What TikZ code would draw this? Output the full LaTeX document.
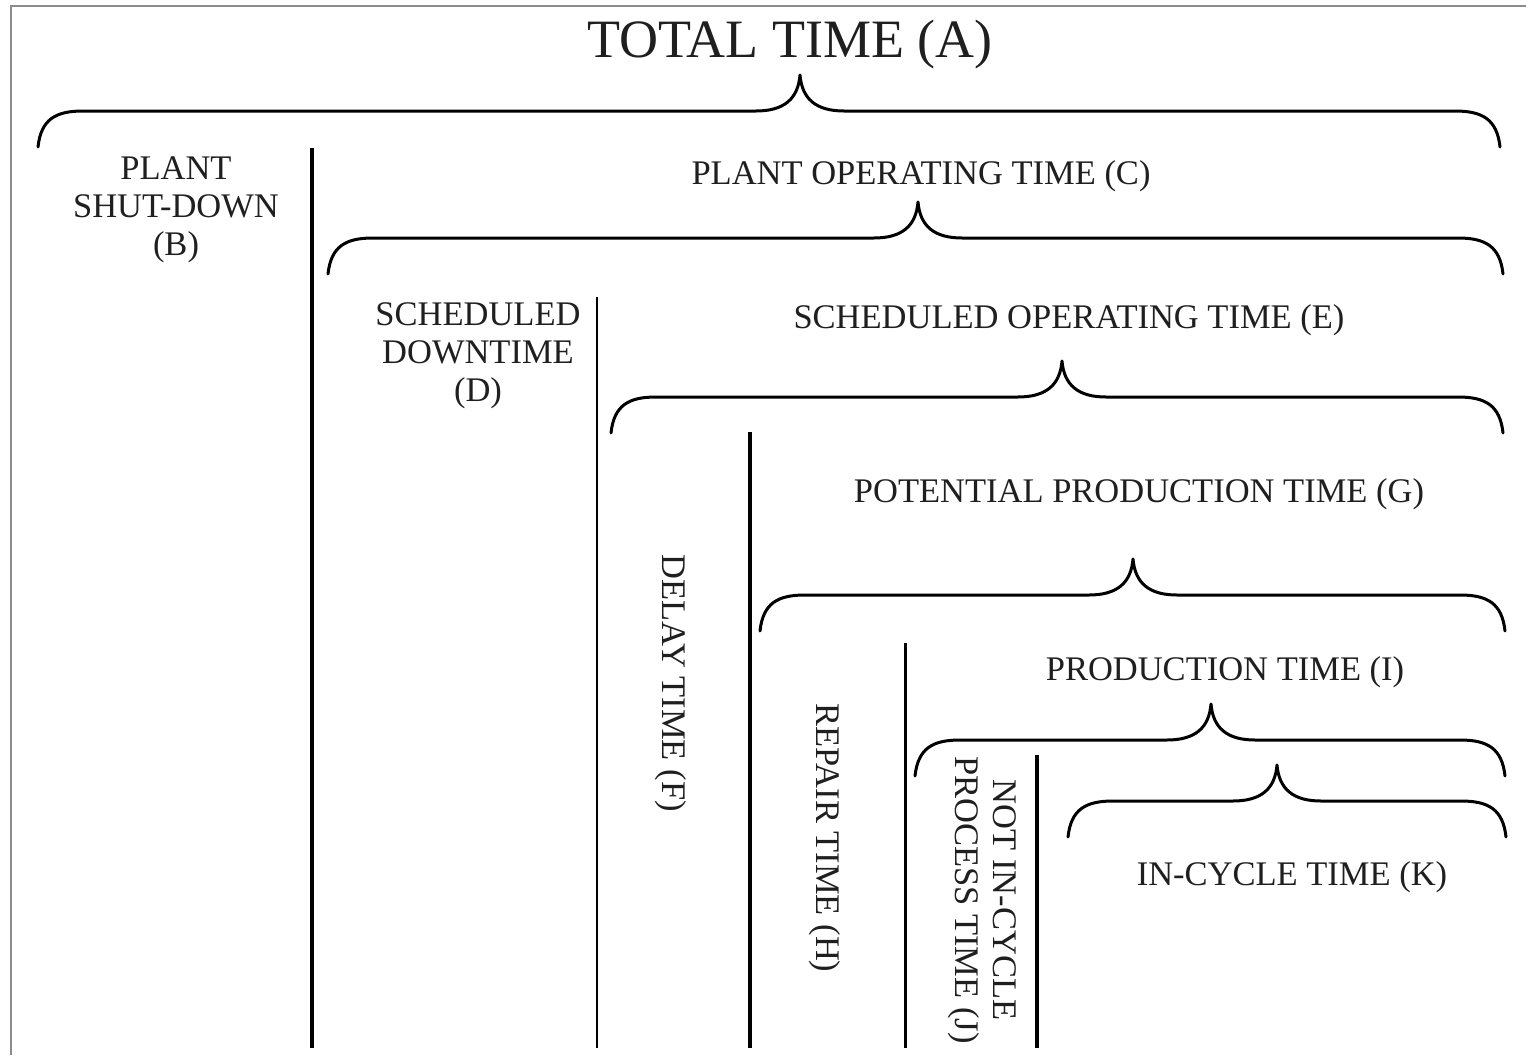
\documentclass[tikz,border=0pt]{standalone}
\usepackage{fontspec}
\setmainfont{Liberation Serif}
\tikzset{
  bracestyle/.style={line width=3pt, line cap=round, line join=round, black},
  divider/.style={line width=3.5pt, black},
  frameline/.style={line width=2pt, black!45},
  lbl/.style={inner sep=0pt, font=\fontsize{34.5}{38}\selectfont, text=black!88},
  biglbl/.style={inner sep=0pt, font=\fontsize{54}{60}\selectfont, text=black!88},
  multilbl/.style={lbl, align=center},
}
\newcommand{\tbrace}[4]{% x0, x1, xtip, yline
  \draw[bracestyle] ({#1},{#4+36}) .. controls ({#1+3},{#4+8}) and ({#1+18},{#4}) .. ({#1+45},{#4})
    -- ({#3-44},{#4}) .. controls ({#3-16},{#4}) and ({#3-2},{#4-12}) .. ({#3},{#4-36})
    .. controls ({#3+2},{#4-12}) and ({#3+16},{#4}) .. ({#3+44},{#4})
    -- ({#2-45},{#4}) .. controls ({#2-18},{#4}) and ({#2-3},{#4+8}) .. ({#2},{#4+36});}
\begin{document}
\begin{tikzpicture}[x=1pt, y=-1pt]
\useasboundingbox (0,0) rectangle (1526,1055);
% frame
\draw[frameline] (11,1055) -- (11,6) -- (1526,6);
% braces
\tbrace{38}{1500}{800}{111}
\tbrace{328}{1503}{918}{238}
\tbrace{611}{1503}{1062}{397}
\tbrace{760}{1505}{1133}{595}
\tbrace{915}{1505}{1211}{740}
\tbrace{1068}{1506}{1277}{801}
% dividers
\coordinate (v1t) at (312,148);  \coordinate (v1b) at (312,1048);
\coordinate (v2t) at (597,297);  \coordinate (v2b) at (597,1048);
\coordinate (v3t) at (750,432);  \coordinate (v3b) at (750,1048);
\coordinate (v4t) at (905,643);  \coordinate (v4b) at (905,1048);
\coordinate (v5t) at (1037,755); \coordinate (v5b) at (1037,1048);
\draw[divider] (v1t) -- (v1b);
\draw[divider, line width=2.8pt] (v2t) -- (v2b);
\draw[divider] (v3t) -- (v3b);
\draw[divider, line width=3pt] (v4t) -- (v4b);
\draw[divider] (v5t) -- (v5b);
% labels
\node[biglbl, anchor=base] (A) at (790,57) {TOTAL TIME (A)};
\node[multilbl] (B) at (176,210) {PLANT\\SHUT-DOWN\\(B)};
\node[lbl, anchor=base] (C) at (921,184) {PLANT OPERATING TIME (C)};
\node[multilbl] (D) at (478,356) {SCHEDULED\\DOWNTIME\\(D)};
\node[lbl, anchor=base] (E) at (1069,328) {SCHEDULED OPERATING TIME (E)};
\node[lbl, anchor=base] (G) at (1139,502) {POTENTIAL PRODUCTION TIME (G)};
\node[lbl, rotate=-90] (F) at (671,683) {DELAY TIME (F)};
\node[lbl, rotate=-90] (H) at (825,838) {REPAIR TIME (H)};
\node[lbl, anchor=base] (I) at (1225,680) {PRODUCTION TIME (I)};
\node[multilbl, rotate=-90] (J) at (982,900) {NOT IN-CYCLE\\PROCESS TIME (J)};
\node[lbl, anchor=base] (K) at (1292,885) {IN-CYCLE TIME (K)};
\end{tikzpicture}
\end{document}
